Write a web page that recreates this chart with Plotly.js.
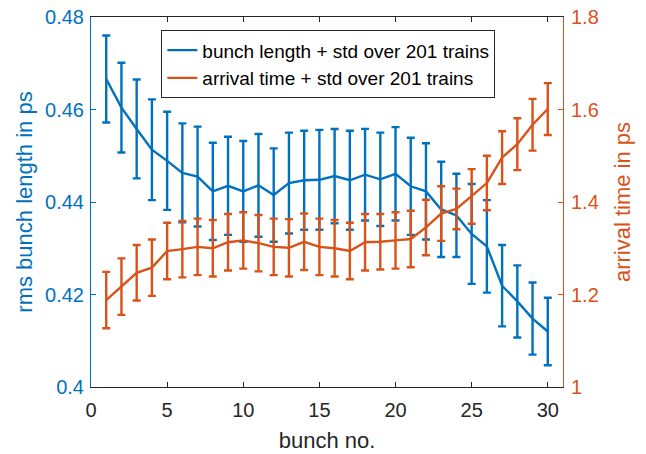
<!DOCTYPE html>
<html>
<head>
<meta charset="utf-8">
<script src="https://cdn.plot.ly/plotly-3.0.1.min.js"></script>
<style>html,body{margin:0;padding:0;background:#fff;}#chart{width:646px;height:454px;}</style>
</head>
<body>
<div id="chart"></div>
<script>
const bunchNo = [1,2,3,4,5,6,7,8,9,10,11,12,13,14,15,16,17,18,19,20,21,22,23,24,25,26,27,28,29,30];
const bunchLength = [0.4666,0.4604,0.4558,0.4513,0.4489,0.4463,0.4455,0.4423,0.4435,0.4423,0.4436,0.4415,0.4441,0.4447,0.4448,0.4456,0.4447,0.4459,0.4449,0.4461,0.4434,0.4423,0.4384,0.4371,0.4331,0.4304,0.4219,0.4185,0.4148,0.4120];
const bunchLengthStd = [0.0094,0.0097,0.0107,0.0109,0.0106,0.0107,0.0108,0.0105,0.0106,0.0109,0.0111,0.0101,0.0109,0.0107,0.0108,0.0102,0.0107,0.0099,0.0101,0.0101,0.0105,0.0104,0.0103,0.0090,0.0108,0.0100,0.0088,0.0078,0.0078,0.0073];
const arrivalTime = [1.188,1.217,1.247,1.258,1.294,1.298,1.303,1.300,1.313,1.317,1.311,1.303,1.301,1.314,1.303,1.300,1.294,1.313,1.314,1.317,1.320,1.345,1.375,1.385,1.412,1.441,1.496,1.525,1.567,1.601];
const arrivalTimeStd = [0.061,0.061,0.060,0.061,0.061,0.061,0.061,0.061,0.061,0.061,0.061,0.061,0.062,0.061,0.061,0.061,0.061,0.061,0.060,0.061,0.061,0.060,0.059,0.044,0.059,0.059,0.057,0.056,0.056,0.056];
const xTicks = [0,5,10,15,20,25,30];
const yTicksLeft = [0.4,0.42,0.44,0.46,0.48];
const yTicksRight = [1,1.2,1.4,1.6,1.8];

const BLUE = '#0072BD', ORANGE = '#D95319', DARK = '#262626';
const FONT = '"Liberation Sans", Arial, Helvetica, sans-serif';

const traces = [
  {x: bunchNo, y: bunchLength, type: 'scatter', mode: 'lines',
   name: 'bunch length + std over 201 trains',
   line: {color: BLUE, width: 2.4},
   error_y: {type: 'data', array: bunchLengthStd, visible: true, color: BLUE, thickness: 2.4, width: 4},
   xaxis: 'x', yaxis: 'y'},
  {x: bunchNo, y: arrivalTime, type: 'scatter', mode: 'lines',
   name: 'arrival time + std over 201 trains',
   line: {color: ORANGE, width: 2.4},
   error_y: {type: 'data', array: arrivalTimeStd, visible: true, color: ORANGE, thickness: 2.4, width: 4},
   xaxis: 'x', yaxis: 'y2'}
];

const layout = {
  width: 646, height: 454,
  margin: {l: 91, r: 83, t: 17, b: 67},
  paper_bgcolor: '#fff', plot_bgcolor: '#fff',
  font: {family: FONT, size: 20, color: DARK},
  showlegend: true,
  legend: {x: 0.149, y: 0.964, xanchor: 'left', yanchor: 'top',
    bgcolor: '#fff', bordercolor: DARK, borderwidth: 1,
    font: {family: FONT, size: 19, color: '#000'}, itemwidth: 30,
    tracegroupgap: 0},
  xaxis: {range: [0, 31], tickvals: xTicks, ticktext: xTicks.map(String),
    showgrid: false, zeroline: false, showline: true, linecolor: DARK, linewidth: 1,
    mirror: 'ticks', ticks: 'inside', ticklen: 5, tickcolor: DARK,
    ticklabelstandoff: 5,
    tickfont: {family: FONT, size: 20, color: DARK},
    title: {text: 'bunch no.', font: {family: FONT, size: 22, color: DARK}, standoff: 12}},
  yaxis: {range: [0.4, 0.48], tickvals: yTicksLeft, ticktext: yTicksLeft.map(String),
    showgrid: false, zeroline: false, showline: true, linecolor: BLUE, linewidth: 1,
    ticks: 'inside', ticklen: 5, tickcolor: BLUE, ticklabelstandoff: 2,
    tickfont: {family: FONT, size: 20, color: BLUE},
    title: {text: 'rms bunch length in ps', font: {family: FONT, size: 22, color: BLUE}, standoff: 6}},
  yaxis2: {range: [1, 1.8], tickvals: yTicksRight, ticktext: yTicksRight.map(String),
    overlaying: 'y', side: 'right',
    showgrid: false, zeroline: false, showline: true, linecolor: ORANGE, linewidth: 1,
    ticks: 'inside', ticklen: 5, tickcolor: ORANGE, ticklabelstandoff: 3,
    tickfont: {family: FONT, size: 20, color: ORANGE},
    title: {text: 'arrival time in ps', font: {family: FONT, size: 22, color: ORANGE}, standoff: 16}}
};

Plotly.newPlot('chart', traces, layout, {displayModeBar: false, staticPlot: true});
</script>
</body>
</html>
